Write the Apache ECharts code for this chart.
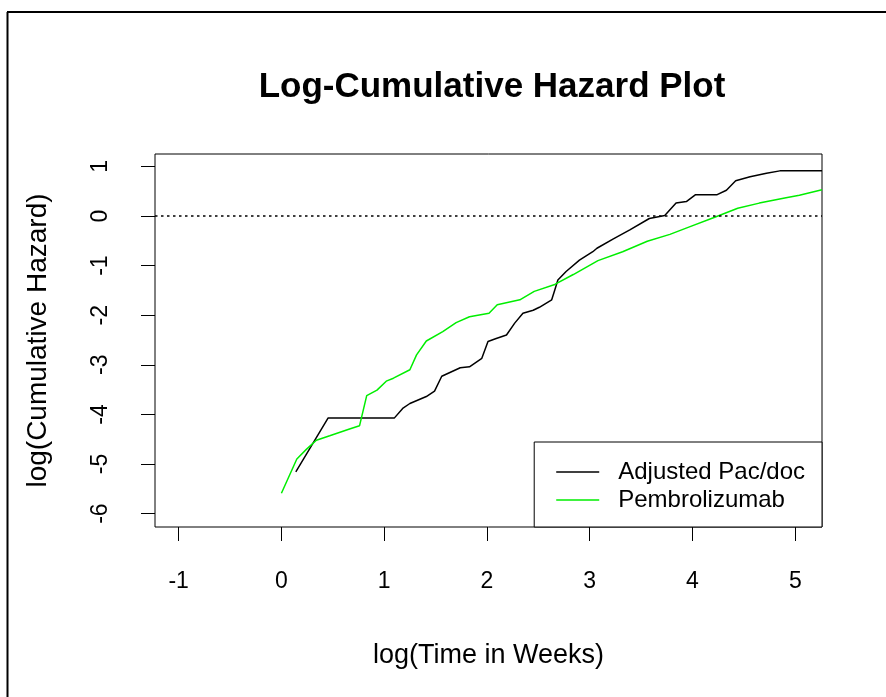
<!DOCTYPE html>
<html>
<head>
<meta charset="utf-8">
<script src="https://cdn.jsdelivr.net/npm/echarts@6/dist/echarts.min.js"></script>
<style>
html,body{margin:0;padding:0;background:#fff;}
#chart{width:886px;height:697px;}
</style>
</head>
<body>
<div id="chart"></div>
<script>
// ---- data ----
var titleText = 'Log-Cumulative Hazard Plot';
var xAxisName = 'log(Time in Weeks)';
var yAxisName = 'log(Cumulative Hazard)';
var seriesNames = ['Adjusted Pac/doc', 'Pembrolizumab'];
var xTicks = [-1, 0, 1, 2, 3, 4, 5];
var yTicks = [-6, -5, -4, -3, -2, -1, 0, 1];
var xRange = [-1.23, 5.26];
var yRange = [-6.27, 1.25];
var refLineY = 0;

var pacX = [0.14, 0.455, 1.10, 1.18, 1.25, 1.41, 1.49, 1.56, 1.74, 1.83, 1.95, 2.01, 2.09, 2.19, 2.27, 2.35, 2.45, 2.51, 2.63, 2.66, 2.69, 2.77, 2.90, 3.03, 3.07, 3.23, 3.39, 3.58, 3.73, 3.84, 3.94, 4.03, 4.24, 4.33, 4.42, 4.56, 4.72, 4.85, 5.26];
var pacY = [-5.16, -4.07, -4.07, -3.88, -3.78, -3.64, -3.53, -3.23, -3.06, -3.04, -2.87, -2.53, -2.47, -2.40, -2.16, -1.96, -1.90, -1.84, -1.69, -1.49, -1.29, -1.12, -0.89, -0.72, -0.65, -0.46, -0.28, -0.05, 0.01, 0.26, 0.29, 0.43, 0.43, 0.52, 0.71, 0.79, 0.86, 0.91, 0.91];

var pemX = [0.00, 0.15, 0.245, 0.34, 0.47, 0.67, 0.76, 0.83, 0.93, 1.02, 1.09, 1.25, 1.315, 1.41, 1.57, 1.70, 1.83, 2.02, 2.10, 2.32, 2.46, 2.66, 2.84, 3.08, 3.32, 3.56, 3.78, 3.97, 4.21, 4.44, 4.65, 4.91, 5.04, 5.26];
var pemY = [-5.59, -4.90, -4.70, -4.52, -4.43, -4.29, -4.23, -3.62, -3.51, -3.33, -3.27, -3.10, -2.80, -2.52, -2.33, -2.15, -2.03, -1.96, -1.79, -1.69, -1.52, -1.38, -1.18, -0.90, -0.72, -0.51, -0.37, -0.22, -0.03, 0.155, 0.26, 0.37, 0.42, 0.53];

function zip(xs, ys) { return xs.map(function (x, i) { return [x, ys[i]]; }); }

var FONT = 'Liberation Sans, Arial, sans-serif';
var chart = echarts.init(document.getElementById('chart'), null, {renderer: 'canvas'});
chart.setOption({
  animation: false,
  backgroundColor: '#fff',
  title: {
    text: titleText,
    left: 487, top: 63, textAlign: 'center',
    textStyle: {fontFamily: FONT, fontSize: 35, fontWeight: 'bold', color: '#000', lineHeight: 38}
  },
  graphic: [
    {type: 'line', shape: {x1: 7.5, y1: 12, x2: 7.5, y2: 697}, style: {stroke: '#000', lineWidth: 2}},
    {type: 'line', shape: {x1: 7, y1: 12, x2: 886, y2: 12}, style: {stroke: '#000', lineWidth: 2}}
  ],
  grid: {left: 155, top: 154, width: 667, height: 373, show: true, borderColor: '#000', borderWidth: 1, backgroundColor: 'transparent'},
  legend: {
    orient: 'vertical',
    right: 64, bottom: 170,
    data: seriesNames,
    icon: 'rect', itemWidth: 43, itemHeight: 1.5, itemGap: 4,
    backgroundColor: '#fff',
    borderColor: '#000', borderWidth: 1, borderRadius: 0,
    padding: [18, 17, 15, 22],
    textStyle: {fontFamily: FONT, fontSize: 24, color: '#000', padding: [0, 0, 0, 14]}
  },
  xAxis: {
    type: 'value', min: xRange[0], max: xRange[1],
    name: xAxisName, nameLocation: 'middle', nameGap: 115,
    nameTextStyle: {fontFamily: FONT, fontSize: 27, color: '#000'},
    axisLine: {show: false, onZero: false},
    splitLine: {show: false},
    axisTick: {show: true, inside: false, length: 14, lineStyle: {color: '#000', width: 1}, customValues: xTicks},
    axisLabel: {fontFamily: FONT, fontSize: 23, color: '#000', margin: 43, customValues: xTicks,
      formatter: function (v) { return String(v); }}
  },
  yAxis: {
    type: 'value', min: yRange[0], max: yRange[1],
    name: yAxisName, nameLocation: 'middle', nameGap: 103,
    nameTextStyle: {fontFamily: FONT, fontSize: 28, color: '#000'},
    axisLine: {show: false, onZero: false},
    splitLine: {show: false},
    axisTick: {show: true, inside: false, length: 14, lineStyle: {color: '#000', width: 1}, customValues: yTicks},
    axisLabel: {fontFamily: FONT, fontSize: 23, color: '#000', margin: 43, rotate: 90, customValues: yTicks,
      formatter: function (v) { return String(v); }}
  },
  series: [
    {
      name: seriesNames[0], type: 'line', data: zip(pacX, pacY),
      symbol: 'none', color: '#000', lineStyle: {color: '#000', width: 1.5},
      markLine: {
        silent: true, symbol: ['none', 'none'], label: {show: false},
        lineStyle: {color: '#000', width: 1.5, type: [2.5, 3.5]},
        data: [{yAxis: refLineY}]
      }
    },
    {
      name: seriesNames[1], type: 'line', data: zip(pemX, pemY),
      symbol: 'none', color: '#00ee00', lineStyle: {color: '#00ee00', width: 1.5}
    }
  ]
});
</script>
</body>
</html>
